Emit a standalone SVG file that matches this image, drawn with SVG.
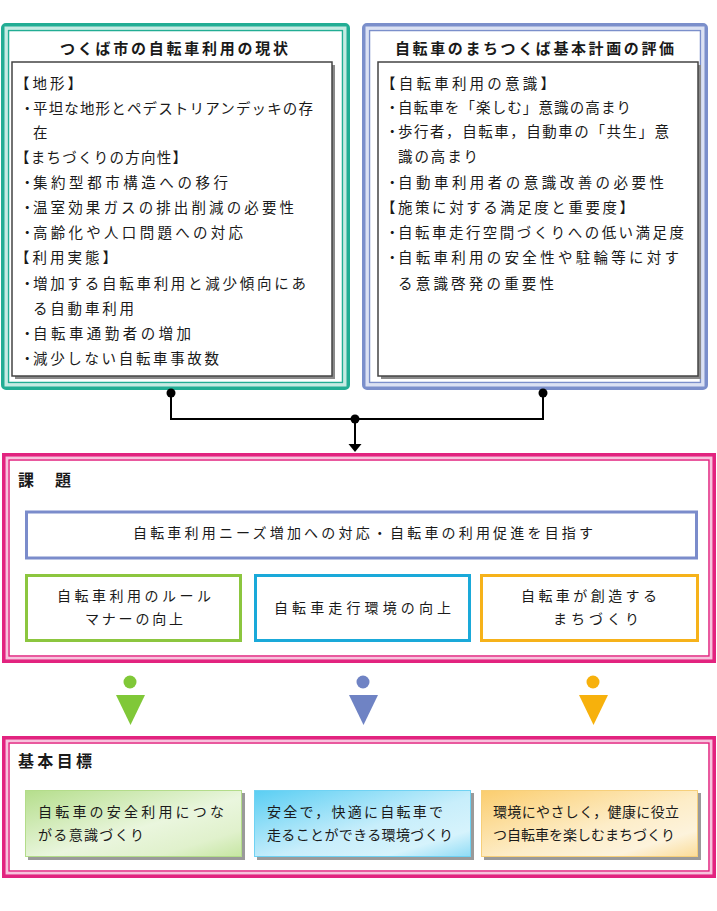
<svg xmlns="http://www.w3.org/2000/svg" width="717" height="911" viewBox="0 0 717 911">
<style>
text{font-family:"Noto Sans CJK JP","Noto Sans CJK SC",sans-serif;fill:#1a1a1a;dominant-baseline:central}
.b{font-size:14.5px}
.t{font-size:15px;font-weight:bold}
.h{font-size:16px;font-weight:bold}
.m{font-size:14px}
.inner{fill:#fff;stroke:#444;stroke-width:1.5}
.shadow{fill:#8a8a8a}
.tealO{fill:#fff;stroke:#22ad94;stroke-width:4}
.tealG{fill:none;stroke:#c6ebe3;stroke-width:3}
.tealI{fill:none;stroke:#22ad94;stroke-width:1.5}
.bluO{fill:#fff;stroke:#7b8fcb;stroke-width:4}
.bluG{fill:none;stroke:#dbe1f3;stroke-width:3}
.bluI{fill:none;stroke:#7b8fcb;stroke-width:1.5}
.magO{fill:#fff;stroke:#e2237f;stroke-width:4}
.magG{fill:none;stroke:#f7c3dd;stroke-width:2.5}
.magI{fill:none;stroke:#e2237f;stroke-width:1.5}
.conn{fill:none;stroke:#000;stroke-width:2}
</style>
<defs>
<linearGradient id="gG" x1="0" y1="0" x2="1" y2="1">
<stop offset="0" stop-color="#b5de8c"/><stop offset="0.55" stop-color="#eaf6de"/><stop offset="0.8" stop-color="#e0f1cc"/><stop offset="1" stop-color="#c6e6a2"/>
</linearGradient>
<linearGradient id="gB" x1="0" y1="0" x2="1" y2="1">
<stop offset="0" stop-color="#5acef3"/><stop offset="0.55" stop-color="#c8eefb"/><stop offset="0.8" stop-color="#d6f3fc"/><stop offset="1" stop-color="#8fdcf6"/>
</linearGradient>
<linearGradient id="gO" x1="0" y1="0" x2="1" y2="1">
<stop offset="0" stop-color="#fbcd6e"/><stop offset="0.55" stop-color="#fdedc8"/><stop offset="0.8" stop-color="#fdf3dc"/><stop offset="1" stop-color="#fbdc98"/>
</linearGradient>
</defs>
<rect width="717" height="911" fill="#fff"/>

<g id="genjo">
<rect class="tealO" x="3" y="25" width="345" height="363" rx="3"/>
<rect class="tealG" x="6" y="28" width="339" height="357"/>
<rect class="tealI" x="8.5" y="30.5" width="334" height="352"/>
<text class="t" x="60" y="47" textLength="228">つくば市の自転車利用の現状</text>
<rect class="shadow" x="15" y="65" width="320" height="314"/>
<rect class="inner" x="12" y="62" width="320" height="314"/>
<text class="b" x="15" y="82" textLength="67">【地形】</text>
<text class="b" y="107"><tspan x="20">・</tspan><tspan x="33" textLength="280">平坦な地形とペデストリアンデッキの存</tspan></text>
<text class="b" x="33" y="131">在</text>
<text class="b" x="15" y="156" textLength="172">【まちづくりの方向性】</text>
<text class="b" y="181"><tspan x="20">・</tspan><tspan x="33" textLength="195">集約型都市構造への移行</tspan></text>
<text class="b" y="206"><tspan x="20">・</tspan><tspan x="33" textLength="261">温室効果ガスの排出削減の必要性</tspan></text>
<text class="b" y="231"><tspan x="20">・</tspan><tspan x="33" textLength="210">高齢化や人口問題への対応</tspan></text>
<text class="b" x="15" y="256" textLength="102">【利用実態】</text>
<text class="b" y="282"><tspan x="20">・</tspan><tspan x="33" textLength="273">増加する自転車利用と減少傾向にあ</tspan></text>
<text class="b" x="33" y="307" textLength="101">る自動車利用</text>
<text class="b" y="332"><tspan x="20">・</tspan><tspan x="33" textLength="158">自転車通勤者の増加</tspan></text>
<text class="b" y="357"><tspan x="20">・</tspan><tspan x="33" textLength="186">減少しない自転車事故数</tspan></text>
</g>

<g id="hyouka">
<rect class="bluO" x="364" y="25" width="342" height="363" rx="3"/>
<rect class="bluG" x="367" y="28" width="336" height="357"/>
<rect class="bluI" x="369.5" y="30.5" width="331" height="352"/>
<text class="t" x="395" y="47" textLength="279">自転車のまちつくば基本計画の評価</text>
<rect class="shadow" x="381" y="65" width="320" height="314"/>
<rect class="inner" x="378" y="62" width="320" height="314"/>
<text class="b" x="381" y="82" textLength="174">【自転車利用の意識】</text>
<text class="b" y="106"><tspan x="385">・</tspan><tspan x="398" textLength="233">自転車を「楽しむ」意識の高まり</tspan></text>
<text class="b" y="130"><tspan x="385">・</tspan><tspan x="398" textLength="271">歩行者，自転車，自動車の「共生」意</tspan></text>
<text class="b" x="398" y="155" textLength="80">識の高まり</text>
<text class="b" y="181"><tspan x="385">・</tspan><tspan x="398" textLength="266">自動車利用者の意識改善の必要性</tspan></text>
<text class="b" x="381" y="206" textLength="253">【施策に対する満足度と重要度】</text>
<text class="b" y="231"><tspan x="385">・</tspan><tspan x="398" textLength="286">自転車走行空間づくりへの低い満足度</tspan></text>
<text class="b" y="256"><tspan x="385">・</tspan><tspan x="398" textLength="281">自転車利用の安全性や駐輪等に対す</tspan></text>
<text class="b" x="398" y="282" textLength="156">る意識啓発の重要性</text>
</g>

<g id="connectors">
<path class="conn" d="M171 393 V419 H543 V393"/>
<path class="conn" d="M355 419 V445"/>
<polygon points="348.5,444 361.5,444 355,452" fill="#000"/>
<circle cx="171" cy="393" r="4.5" fill="#000"/>
<circle cx="543" cy="393" r="4.5" fill="#000"/>
<circle cx="355" cy="419" r="4.5" fill="#000"/>
</g>

<g id="kadai">
<rect class="magO" x="4" y="455" width="710" height="206"/>
<rect class="magG" x="6.8" y="457.8" width="704.4" height="200.4"/>
<rect class="magI" x="9" y="460" width="700" height="196"/>
<text class="h" x="18" y="479" textLength="53">課　題</text>
</g>

<g id="kadai-main">
<rect x="26.5" y="512" width="670" height="46" fill="#fff" stroke="#7b8ccb" stroke-width="3"/>
<text class="m" x="133" y="532" textLength="460">自転車利用ニーズ増加への対応・自転車の利用促進を目指す</text>
</g>
<g id="kadai-rule">
<rect x="26.5" y="575.5" width="214" height="65" fill="#fff" stroke="#8cc63f" stroke-width="3"/>
<text class="m" x="57" y="595" textLength="154">自転車利用のルール</text>
<text class="m" x="85" y="618" textLength="98">マナーの向上</text>
</g>
<g id="kadai-env">
<rect x="255.5" y="575.5" width="214" height="65" fill="#fff" stroke="#1aa9d9" stroke-width="3"/>
<text class="m" x="274" y="607" textLength="177">自転車走行環境の向上</text>
</g>
<g id="kadai-town">
<rect x="481.5" y="575.5" width="216" height="65" fill="#fff" stroke="#f6b21a" stroke-width="3"/>
<text class="m" x="521" y="595" textLength="136">自転車が創造する</text>
<text class="m" x="553" y="618" textLength="86">まちづくり</text>
</g>

<g id="arrows">
<circle cx="130" cy="682" r="6.5" fill="#80c838"/>
<polygon points="116,695 145,695 130.5,725" fill="#80c838"/>
<circle cx="363" cy="682" r="6.5" fill="#6f83c4"/>
<polygon points="349,695 378,695 363.5,725" fill="#6f83c4"/>
<circle cx="593" cy="682" r="6.5" fill="#f7b10c"/>
<polygon points="579,695 608,695 593.5,725" fill="#f7b10c"/>
</g>

<g id="kihon">
<rect class="magO" x="4" y="738" width="710" height="138"/>
<rect class="magG" x="6.8" y="740.8" width="704.4" height="132.4"/>
<rect class="magI" x="9" y="743" width="700" height="128"/>
<text class="h" x="18" y="760" textLength="74">基本目標</text>
</g>

<g id="goal-safe">
<rect x="28" y="793" width="217" height="67" fill="#9a9a9a"/>
<rect x="25.5" y="790.5" width="216" height="66" fill="url(#gG)" stroke="#b3dc8a" stroke-width="1"/>
<text class="m" x="38" y="811" textLength="186">自転車の安全利用につな</text>
<text class="m" x="38" y="834" textLength="106">がる意識づくり</text>
</g>
<g id="goal-comfort">
<rect x="257" y="793" width="217" height="67" fill="#9a9a9a"/>
<rect x="254.5" y="790.5" width="216" height="66" fill="url(#gB)" stroke="#6fd2f3" stroke-width="1"/>
<text class="m" x="267" y="811" textLength="176">安全で，快適に自転車で</text>
<text class="m" x="267" y="834" textLength="186">走ることができる環境づくり</text>
</g>
<g id="goal-town">
<rect x="484" y="793" width="217" height="67" fill="#9a9a9a"/>
<rect x="481.5" y="790.5" width="216" height="66" fill="url(#gO)" stroke="#f6cf7a" stroke-width="1"/>
<text class="m" x="493" y="811" textLength="186">環境にやさしく，健康に役立</text>
<text class="m" x="493" y="834" textLength="182">つ自転車を楽しむまちづくり</text>
</g>
</svg>
